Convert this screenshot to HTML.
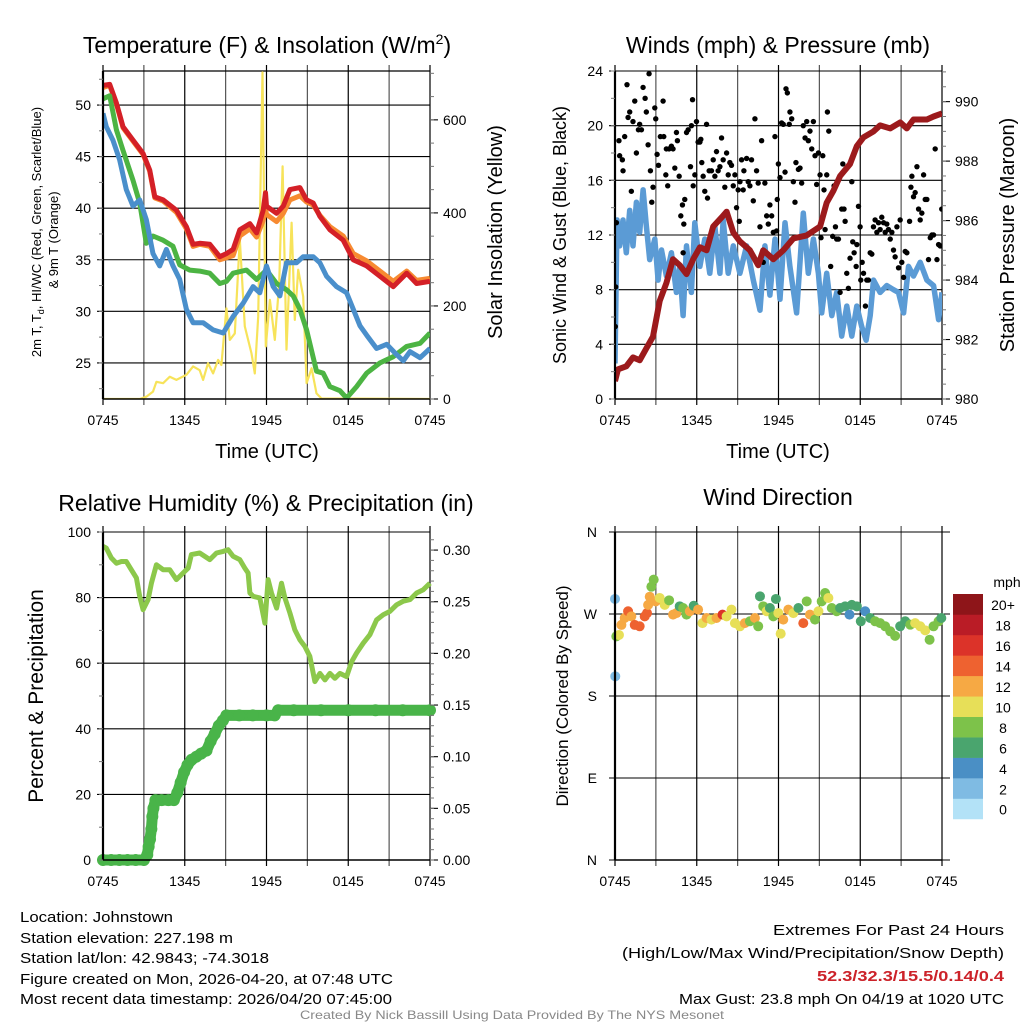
<!DOCTYPE html>
<html><head><meta charset="utf-8"><style>
html,body{margin:0;padding:0;background:#fff;width:1024px;height:1024px;overflow:hidden}
svg{display:block;font-family:"Liberation Sans",sans-serif}
.narrow{font-family:"Liberation Sans Narrow","Liberation Sans",sans-serif}
</style></head><body>
<svg id="chart" width="1024" height="1024" viewBox="0 0 1024 1024" xmlns="http://www.w3.org/2000/svg">
<defs>
<clipPath id="c1"><rect x="103" y="71" width="327" height="328"/></clipPath>
<clipPath id="c2"><rect x="615" y="71" width="327" height="328"/></clipPath>
<clipPath id="c3"><rect x="93" y="525" width="350" height="345"/></clipPath>
<clipPath id="c4"><rect x="605" y="525" width="345" height="345"/></clipPath>
</defs>
<g id="grids"></g>
<g id="marks"></g>
<g id="axes"></g>
<text x="267" y="53" font-size="23" text-anchor="middle">Temperature (F) &amp; Insolation (W/m<tspan dy="-9" font-size="14">2</tspan><tspan dy="9">)</tspan></text>
<text x="778" y="53" font-size="23" text-anchor="middle">Winds (mph) &amp; Pressure (mb)</text>
<text x="266" y="511" font-size="23" text-anchor="middle">Relative Humidity (%) &amp; Precipitation (in)</text>
<text x="778" y="505" font-size="23" text-anchor="middle">Wind Direction</text>
<text x="267" y="458" font-size="20" text-anchor="middle">Time (UTC)</text>
<text x="778" y="458" font-size="20" text-anchor="middle">Time (UTC)</text>
<text transform="translate(41,232) rotate(-90)" font-size="13" text-anchor="middle">2m T, T<tspan dy="3" font-size="9">d</tspan><tspan dy="-3">, HI/WC (Red, Green, Scarlet/Blue)</tspan></text>
<text transform="translate(58,240) rotate(-90)" font-size="13" text-anchor="middle">&amp; 9m T (Orange)</text>
<text transform="translate(502,232) rotate(-90)" font-size="20" text-anchor="middle">Solar Insolation (Yellow)</text>
<text transform="translate(566,235) rotate(-90)" font-size="18" text-anchor="middle">Sonic Wind &amp; Gust (Blue, Black)</text>
<text transform="translate(1014,235) rotate(-90)" font-size="20" text-anchor="middle">Station Pressure (Maroon)</text>
<text transform="translate(43,696) rotate(-90)" font-size="21" text-anchor="middle">Percent &amp; Precipitation</text>
<text transform="translate(568,696) rotate(-90)" font-size="17" text-anchor="middle">Direction (Colored By Speed)</text>
<text x="1007" y="587" font-size="14" text-anchor="middle">mph</text>
<g class="narrow" font-size="15">
<text x="20" y="922" textLength="153" lengthAdjust="spacingAndGlyphs">Location: Johnstown</text>
<text x="20" y="943" textLength="213" lengthAdjust="spacingAndGlyphs">Station elevation: 227.198 m</text>
<text x="20" y="963" textLength="249" lengthAdjust="spacingAndGlyphs">Station lat/lon: 42.9843; -74.3018</text>
<text x="20" y="984" textLength="373" lengthAdjust="spacingAndGlyphs">Figure created on Mon, 2026-04-20, at 07:48 UTC</text>
<text x="20" y="1004" textLength="372" lengthAdjust="spacingAndGlyphs">Most recent data timestamp: 2026/04/20 07:45:00</text>
<text x="1004" y="935" text-anchor="end" textLength="231" lengthAdjust="spacingAndGlyphs">Extremes For Past 24 Hours</text>
<text x="1004" y="958" text-anchor="end" textLength="382" lengthAdjust="spacingAndGlyphs">(High/Low/Max Wind/Precipitation/Snow Depth)</text>
<text x="1004" y="981" text-anchor="end" fill="#cc2229" font-weight="bold" textLength="187" lengthAdjust="spacingAndGlyphs">52.3/32.3/15.5/0.14/0.4</text>
<text x="1004" y="1004" text-anchor="end" textLength="325" lengthAdjust="spacingAndGlyphs">Max Gust: 23.8 mph On 04/19 at 1020 UTC</text>
<text x="512" y="1019" text-anchor="middle" fill="#888" font-size="12" textLength="424" lengthAdjust="spacingAndGlyphs">Created By Nick Bassill Using Data Provided By The NYS Mesonet</text>
</g>
</svg>
<script>
// ---------- DATA ----------
const timeTickLabels = ["0745","1345","1945","0145","0745"];
const tempTicks = [25,30,35,40,45,50];
const insolTicks = [0,200,400,600];
const windTicks = [0,4,8,12,16,20,24];
const presTicks = [980,982,984,986,988,990];
const rhTicks = [0,20,40,60,80,100];
const precipTicks = [0,0.05,0.10,0.15,0.20,0.25,0.30];
const precipTickLabels = ["0.00","0.05","0.10","0.15","0.20","0.25","0.30"];
const dirTicks = [0,90,180,270,360];
const dirTickLabels = ["N","E","S","W","N"];
const speedBins = ["0","2","4","6","8","10","12","14","16","18","20+"];
const speedColors = ["#b3e2f7","#7fbbe3","#4a8fc5","#4aa56e","#7dc24a","#e7df58","#f6a944","#ee6230","#dc3329","#ba1c26","#8e1519"];

const redT = [0,0.49,0.98,1.47,2.2,2.94,3.43,3.8,4.41,5.39,6.12,6.61,7.1,7.84,8.57,9.06,9.55,10.04,10.78,11.27,11.76,11.93,12.0,12.74,13.23,13.72,14.45,14.94,15.43,15.92,16.65,17.63,18.37,19.35,20.33,21.31,22.29,23.02,24];
const redV = [51.9,52.0,50.2,47.9,46.6,45.3,43.7,41.1,40.8,39.8,38.2,36.5,36.6,36.5,35.3,35.6,36.0,37.9,38.5,37.6,39.8,41.5,40.2,39.5,40.2,41.8,42.0,40.8,40.5,39.2,37.9,36.9,35.0,34.4,33.4,32.4,33.7,32.7,32.9];
const orangeV = [51.7,51.9,50.1,47.8,46.5,45.2,43.6,41.0,40.7,39.6,38.0,36.3,36.5,36.3,35.0,35.2,35.4,37.3,38.0,37.2,38.8,40.0,39.4,38.7,39.5,40.8,41.2,40.6,40.3,39.3,38.2,37.3,35.6,34.9,33.9,32.9,33.9,33.0,33.2];
const greenT = [0,0.49,0.98,1.47,2.2,2.69,3.18,3.67,4.41,5.14,5.63,6.37,7.1,7.84,8.57,9.06,9.55,10.53,11.27,12.0,12.74,13.47,13.96,14.45,14.94,15.67,16.16,16.65,17.39,17.88,18.61,19.35,20.33,21.31,22.29,23.27,24];
const greenV = [50.6,50.9,47.6,45.6,42.7,40.5,36.6,37.3,36.9,36.3,34.5,34.0,33.9,33.7,32.7,32.9,33.7,34.0,33.1,34.0,32.7,32.1,31.5,30.2,28.2,24.2,24.0,22.7,22.3,21.6,22.7,24.0,25.0,25.6,26.6,26.9,27.9];
const blueT = [0,0.24,0.73,1.22,1.71,2.2,2.69,3.18,3.67,4.16,4.65,5.14,5.63,6.12,6.61,7.35,8.08,8.82,9.55,10.29,11.02,11.51,12.0,12.49,12.98,13.47,14.2,14.69,15.43,15.92,16.41,17.14,17.88,18.37,18.86,19.35,20.08,20.82,21.55,22.04,22.53,23.27,24];
const blueV = [49.2,47.9,46.6,44.7,41.8,40.2,40.8,38.9,35.6,34.4,36.0,34.4,33.1,30.2,28.9,28.9,28.2,27.9,29.5,30.8,32.4,31.8,34.4,32.4,31.5,34.7,34.7,35.3,35.3,34.7,33.4,32.4,31.8,30.2,28.6,27.7,26.4,26.8,25.8,25.2,26.1,25.5,26.4];
const solarT = [0,2.69,3.18,3.67,3.92,4.41,4.9,5.39,6.12,6.61,7.1,7.35,7.71,8.08,8.45,8.69,9.06,9.31,9.67,10.04,10.41,10.9,11.14,11.39,11.71,11.95,12.25,12.61,12.93,13.18,13.47,13.84,14.08,14.33,14.69,14.94,15.31,15.67,16.04,24];
const solarV = [0,0,5,16,37,34,48,41,52,70,62,41,77,55,84,73,195,127,141,343,156,98,55,177,702,113,213,127,249,500,106,379,170,278,220,34,66,12,1,0];

const presT = [0,0.22,0.83,1.32,1.81,2.3,2.79,3.28,3.77,4.26,4.75,5.25,5.74,6.23,6.72,7.21,7.82,8.19,8.68,9.17,9.9,10.51,10.88,11.62,12.35,13.09,14.07,15.05,15.54,16.03,16.52,17.25,17.75,18.24,18.97,19.46,20.2,20.93,21.42,21.91,22.89,23.38,24];
const presV = [980.6,981.0,981.1,981.4,981.3,981.7,982.1,983.3,983.9,984.7,984.5,984.2,984.7,985.1,985.0,985.8,986.1,986.3,985.6,985.3,985.0,984.5,985.0,984.7,985.0,985.4,985.5,985.8,986.6,987.0,987.5,987.9,988.5,988.8,989.0,989.2,989.1,989.3,989.1,989.4,989.4,989.5,989.6];
const windT = [0,0.15,0.34,0.59,0.83,1.08,1.32,1.57,1.81,2.06,2.3,2.55,2.92,3.16,3.41,3.77,4.14,4.51,4.75,5.0,5.25,5.61,5.86,6.23,6.59,6.96,7.33,7.7,7.94,8.31,8.68,9.17,9.66,10.15,10.64,11.0,11.37,11.74,12.11,12.48,12.84,13.33,13.82,14.19,14.56,14.93,15.17,15.54,15.91,16.27,16.64,17.01,17.38,17.75,18.11,18.43,18.73,18.97,19.46,19.95,20.44,20.81,21.18,21.54,21.91,22.4,22.89,23.38,23.75,24];
const windV = [2.6,13.1,11.2,13.1,10.7,13.8,11.2,14.4,12.2,15.3,12.7,10.2,11.7,8.7,10.9,9.0,10.7,7.8,9.7,6.1,11.2,7.8,12.9,9.7,11.7,9.2,12.6,9.2,13.1,9.2,11.2,9.2,11.2,8.7,6.5,11.2,7.6,11.7,7.3,12.9,9.7,6.3,13.6,9.2,11.7,9.2,6.3,9.2,6.1,7.8,4.6,6.8,4.6,6.8,5.3,4.3,6.1,8.7,7.8,8.3,8.0,7.8,6.3,9.7,9.0,10.0,8.7,8.3,5.8,7.8];
const gustT = [0.02,0.05,0.1,0.29,0.34,0.54,0.59,0.71,0.88,0.96,1.08,1.2,1.32,1.45,1.57,1.72,1.81,1.94,2.06,2.21,2.3,2.43,2.5,2.6,2.7,2.79,2.92,2.99,3.09,3.19,3.33,3.53,3.58,3.73,3.77,3.87,3.97,4.14,4.26,4.39,4.51,4.58,4.71,4.83,4.95,5.0,5.05,5.12,5.25,5.37,5.54,5.61,5.69,5.74,5.86,5.98,6.1,6.23,6.3,6.37,6.47,6.59,6.72,6.79,6.91,7.08,7.21,7.33,7.45,7.57,7.7,7.82,7.94,8.06,8.19,8.31,8.43,8.55,8.68,8.8,8.92,9.04,9.12,9.17,9.29,9.41,9.46,9.66,9.78,9.9,10.02,10.15,10.27,10.39,10.51,10.64,10.76,10.88,11.0,11.13,11.25,11.37,11.5,11.62,11.74,11.86,11.91,11.99,12.11,12.23,12.35,12.48,12.55,12.65,12.79,12.84,12.97,13.09,13.21,13.28,13.46,13.58,13.7,13.82,13.95,14.07,14.19,14.31,14.44,14.56,14.68,14.8,14.93,15.05,15.12,15.25,15.34,15.42,15.54,15.59,15.69,15.83,15.98,16.08,16.18,16.27,16.4,16.52,16.64,16.72,16.81,16.89,17.01,17.13,17.25,17.38,17.45,17.55,17.7,17.75,17.87,17.99,18.04,18.14,18.24,18.38,18.48,18.6,18.73,18.85,18.97,19.09,19.22,19.34,19.46,19.58,19.71,19.83,19.95,20.07,20.2,20.32,20.44,20.56,20.69,20.81,20.93,21.05,21.18,21.3,21.42,21.62,21.72,21.79,21.91,22.03,22.16,22.28,22.4,22.52,22.65,22.77,22.89,23.01,23.14,23.26,23.38,23.5,23.63,23.75,23.87,23.98];
const gustV = [5.3,8.2,12.9,18.9,17.8,17.5,16.7,19.2,23.0,20.6,21.0,15.2,20.3,21.8,18.0,19.7,20.1,19.7,22.8,22.0,21.0,18.6,23.8,16.7,14.4,15.5,21.3,20.5,17.9,17.1,19.2,21.8,19.2,16.4,18.3,15.6,18.3,18.5,18.3,16.9,19.5,18.9,16.3,13.4,14.2,10.7,12.8,14.6,19.5,19.7,17.0,20.0,21.9,15.6,16.4,20.3,18.8,18.8,19.0,17.3,16.3,15.2,20.1,14.7,16.7,16.7,17.5,16.3,18.1,16.7,17.0,19.1,17.5,15.5,18.0,16.4,17.3,17.1,15.6,16.4,14.0,15.3,13.0,15.9,17.5,15.3,16.7,17.6,15.9,15.6,17.5,14.5,20.5,16.7,15.8,12.6,18.9,10.0,15.8,13.4,12.8,14.2,13.4,12.2,19.2,12.3,14.6,17.2,16.2,20.2,20.1,16.6,22.7,22.4,20.1,21.0,20.5,15.9,14.4,17.3,16.8,16.9,15.8,20.0,19.1,20.3,18.9,19.6,18.3,20.3,17.8,15.7,18.0,16.4,11.8,17.8,15.3,12.4,16.4,21.0,19.6,9.7,11.9,15.6,12.6,11.7,11.7,7.8,13.9,17.2,13.9,13.0,9.2,8.1,10.3,15.9,11.5,10.7,9.7,11.3,14.1,12.6,8.7,10.0,9.2,6.8,8.7,8.7,10.7,10.6,12.6,13.1,12.2,12.9,12.4,13.3,12.9,12.2,12.8,12.4,11.7,12.2,10.9,10.4,12.6,9.6,13.1,10.0,8.9,10.8,10.7,13.0,15.5,16.3,14.8,15.1,17.0,13.9,13.1,13.6,16.4,14.6,14.6,10.2,11.8,12.0,12.0,18.3,10.2,11.3,11.2,13.9];

const rhT = [0,0.24,0.61,0.98,1.35,1.71,2.08,2.45,2.69,2.94,3.31,3.55,3.92,4.41,4.9,5.39,5.88,6.25,6.49,7.1,7.84,8.33,8.82,9.18,9.55,10.04,10.41,10.65,10.78,11.02,11.51,11.88,12.12,12.37,12.74,13.1,13.35,13.72,14.08,14.45,14.82,15.18,15.55,15.92,16.29,16.65,17.02,17.39,17.88,18.25,18.61,19.1,19.59,20.08,20.57,21.06,21.55,22.04,22.53,23.02,23.51,24];
const rhV = [95.6,95.1,92.1,90.5,91.0,91.0,88.5,86.0,80.4,76.3,79.4,84.4,90.0,88.5,88.5,85.5,87.5,89.0,93.1,93.6,91.6,93.6,94.1,94.6,92.6,91.6,89.0,87.5,81.4,80.4,79.9,72.2,85.5,81.4,76.8,84.4,79.9,75.3,70.2,67.1,65.1,62.1,54.4,56.9,54.9,56.9,55.4,56.9,55.9,60.5,63.1,66.1,68.7,73.2,74.8,75.8,77.8,78.9,79.4,81.4,82.4,84.4];
const precipT = [0,0.6,1.2,1.8,2.4,3.0,3.25,3.35,3.45,3.55,3.62,3.7,3.85,4.3,4.8,5.2,5.45,5.7,5.95,6.2,6.5,6.85,7.2,7.6,7.9,8.2,8.5,8.8,9.06,10,11,12,12.6,12.86,14,16,18,20,22,24];
const precipV = [0,0,0,0,0,0,0.005,0.013,0.02,0.03,0.042,0.05,0.058,0.058,0.058,0.058,0.065,0.075,0.085,0.092,0.097,0.1,0.103,0.106,0.115,0.122,0.13,0.135,0.14,0.14,0.14,0.14,0.14,0.145,0.145,0.145,0.145,0.145,0.145,0.145];

const dirT = [0,0.02,0.1,0.29,0.47,0.71,0.96,1.2,1.45,1.81,2.18,2.35,2.43,2.55,2.67,2.84,2.99,3.28,3.65,3.97,4.26,4.51,4.75,5.0,5.25,5.49,5.78,6.1,6.42,6.72,7.08,7.45,7.89,8.19,8.55,8.8,9.17,9.53,9.9,10.27,10.51,10.64,10.88,11.13,11.37,11.62,11.81,11.99,12.16,12.35,12.72,13.09,13.46,13.82,14.07,14.31,14.68,14.93,15.17,15.42,15.66,15.91,16.27,16.52,16.89,17.21,17.38,17.75,18.04,18.36,18.73,19.09,19.46,19.83,20.2,20.56,20.93,21.3,21.67,22.03,22.4,22.77,23.09,23.38,23.75,23.95];
const dirV = [286.5,201.6,245.5,247,258,265.6,273,267.4,258,256.5,267.4,271,280,289,300,307.7,283.9,287.6,280,285,269.3,271,278.4,276.6,269.3,273,279,274.8,260,265.6,263.8,265.6,269.3,267.4,274.8,260,256.5,260,262,265.6,256.5,289.4,278.4,273,276.6,267.4,286.5,271,248.4,263.8,274.8,271,276.6,260,283.9,269.3,263.8,273,283.9,293,287.6,276.6,273,276.6,278.4,269.3,280,278.4,262,273,265.6,262,260,256.5,251,246,256.5,262,258.3,260,256.5,252,241.8,256.5,262,265.6];
const dirSpeed = [3,3,8,10,12,12,14,13,14,14,14,15,12,12,8,8,12,10,10,8,12,12,7,8,8,12,7,12,10,12,10,12,16,10,10,10,10,12,8,12,8,6,8,10,6,8,6,10,10,12,12,10,6,14,8,12,8,10,8,8,10,8,8,6,6,4,6,6,6,4,6,8,8,8,8,8,6,6,8,10,10,10,8,8,8,6];

// ---------- HELPERS ----------
const NS = "http://www.w3.org/2000/svg";
const gGrid = document.getElementById('grids');
const gMarks = document.getElementById('marks');
const gAxes = document.getElementById('axes');
function mk(tag, attrs, parent){const e=document.createElementNS(NS,tag);for(const k in attrs)e.setAttribute(k,attrs[k]);parent.appendChild(e);return e;}
function lin(d0,d1,r0,r1){return v=>r0+(v-d0)/(d1-d0)*(r1-r0);}
function pathD(ts,vs,xs,ys){let s="";for(let i=0;i<ts.length;i++){s+=(i?"L":"M")+xs(ts[i]).toFixed(1)+","+ys(vs[i]).toFixed(1);}return s;}

function frame(p, name){
  // vertical gridlines every 3 hours
  for(let h=0;h<=24;h+=3){
    const x=p.xs(h);
    const l=mk('line',{x1:x,y1:p.y0-6,x2:x,y2:p.y1+6,stroke:(h%6===0?'#000':'#555'),'stroke-width':1.2},gGrid);
    
    
  }
  timeTickLabels.forEach((lab,i)=>{
    const t=mk('text',{x:p.xs(i*6),y:p.y1+26,'font-size':14,'text-anchor':'middle'},gAxes);t.textContent=lab;
    
    
  });
  const ax=mk('line',{x1:p.x0,y1:p.y0,x2:p.x0,y2:p.y1,stroke:'#000','stroke-width':2.2},gAxes);
  
  
  const bx=mk('line',{x1:p.x0,y1:p.y1,x2:p.x1,y2:p.y1,stroke:'#000','stroke-width':1.4},gAxes);
  
  
}
function leftTicks(p,ticks,labels,ys,name,minorStep){
  ticks.forEach((v,i)=>{
    const y=ys(v);
    const l=mk('line',{x1:p.x0-6,y1:y,x2:p.x1+(p.rightExt||0),y2:y,stroke:'#000','stroke-width':1.1},gGrid);
    
    
    const t=mk('text',{x:p.x0-12,y:y+5,'font-size':14,'text-anchor':'end'},gAxes);t.textContent=labels?labels[i]:v;
    
    
  });
  if(minorStep){
    const lo=ys.domain[0],hi=ys.domain[1];
    for(let v=Math.ceil(lo/minorStep)*minorStep; v<=hi+1e-9; v+=minorStep){
      const y=ys(v);
      mk('line',{x1:p.x0-4,y1:y,x2:p.x0,y2:y,stroke:'#777','stroke-width':1},gAxes);
    }
  }
}
function rightTicks(p,ticks,labels,ys,name,minorStep){
  ticks.forEach((v,i)=>{
    const y=ys(v);
    mk('line',{x1:p.x1,y1:y,x2:p.x1+8,y2:y,stroke:'#000','stroke-width':1.1},gAxes);
    const t=mk('text',{x:p.x1+13,y:y+5,'font-size':14,'text-anchor':'start'},gAxes);t.textContent=labels?labels[i]:v;
    
    
  });
  if(minorStep){
    const lo=ys.domain[0],hi=ys.domain[1];
    for(let v=Math.ceil(lo/minorStep-1e-9)*minorStep; v<=hi+1e-9; v+=minorStep){
      mk('line',{x1:p.x1,y1:ys(v),x2:p.x1+4,y2:ys(v),stroke:'#777','stroke-width':1},gAxes);
    }
  }
}
function scaleY(d0,d1,r0,r1){const f=lin(d0,d1,r0,r1);f.domain=[d0,d1];return f;}

// ---------- PANEL 1: temperature ----------
{
const p={x0:103,x1:430,y0:71,y1:399};
p.xs=lin(0,24,p.x0,p.x1);
const yT=scaleY(21.5,53.3,p.y1,p.y0);
const yS=scaleY(0,705,p.y1,p.y0);
frame(p,'temp');
leftTicks(p,tempTicks,null,yT,'temp',2.5);
rightTicks(p,insolTicks,null,yS,'insolation',50);
const g=mk('g',{'clip-path':'url(#c1)'},gMarks);
const s=mk('path',{d:pathD(solarT,solarV,p.xs,yS),fill:'none',stroke:'#f7e35a','stroke-width':2.2,'stroke-linejoin':'round'},g);


const o=mk('path',{d:pathD(redT,orangeV,p.xs,yT),fill:'none',stroke:'#f78a31','stroke-width':5,'stroke-linejoin':'round'},g);


const r=mk('path',{d:pathD(redT,redV,p.xs,yT),fill:'none',stroke:'#d42027','stroke-width':5,'stroke-linejoin':'round'},g);


const gr=mk('path',{d:pathD(greenT,greenV,p.xs,yT),fill:'none',stroke:'#4cb443','stroke-width':5,'stroke-linejoin':'round'},g);


const b=mk('path',{d:pathD(blueT,blueV,p.xs,yT),fill:'none',stroke:'#4a8fcb','stroke-width':5,'stroke-linejoin':'round'},g);


const top=mk('line',{x1:p.x0,y1:p.y0,x2:p.x1,y2:p.y0,stroke:'#000','stroke-width':1.2},gGrid);
}

// ---------- PANEL 2: winds ----------
{
const p={x0:615,x1:942,y0:71,y1:399};
p.xs=lin(0,24,p.x0,p.x1);
const yW=scaleY(0,24,p.y1,p.y0);
const yP=scaleY(980,991.03,p.y1,p.y0);
frame(p,'wind');
leftTicks(p,windTicks,null,yW,'wind',2);
rightTicks(p,presTicks,null,yP,'pressure',0.5);
const g=mk('g',{'clip-path':'url(#c2)'},gMarks);
const w=mk('path',{d:pathD(windT,windV,p.xs,yW),fill:'none',stroke:'#5b9bd5','stroke-width':5.5,'stroke-linejoin':'round'},g);


for(let i=0;i<gustT.length;i++){
  const c=mk('circle',{cx:p.xs(gustT[i]),cy:yW(gustV[i]),r:2.7,fill:'#000'},g);
  
  
}
const pr=mk('path',{d:pathD(presT,presV,p.xs,yP),fill:'none',stroke:'#9c1a1c','stroke-width':6,'stroke-linejoin':'round'},g);


}

// ---------- PANEL 3: RH & precip ----------
{
const p={x0:103,x1:430,y0:532,y1:860};
p.xs=lin(0,24,p.x0,p.x1);
const yR=scaleY(0,100,p.y1,p.y0);
const yPr=scaleY(0,0.3175,p.y1,p.y0);
frame(p,'rh');
leftTicks(p,rhTicks,null,yR,'rh',10);
rightTicks(p,precipTicks,precipTickLabels,yPr,'precip',0.01);
const g=mk('g',{'clip-path':'url(#c3)'},gMarks);
const rh=mk('path',{d:pathD(rhT,rhV,p.xs,yR),fill:'none',stroke:'#8cc84b','stroke-width':5,'stroke-linejoin':'round'},g);


const pc=mk('path',{d:pathD(precipT,precipV,p.xs,yPr),fill:'none',stroke:'#49b449','stroke-width':11,'stroke-linejoin':'round','stroke-linecap':'round'},g);


for(let i=0;i<precipT.length;i++){
  const c=mk('circle',{cx:p.xs(precipT[i]),cy:yPr(precipV[i]),r:6,fill:'#49b449'},g);
  
  
}
}

// ---------- PANEL 4: wind direction ----------
{
const p={x0:615,x1:942,y0:532,y1:860};
p.xs=lin(0,24,p.x0,p.x1);
const yD=scaleY(0,360,p.y1,p.y0);
frame(p,'direction');
dirTicks.forEach((v,i)=>{
  const y=yD(v);
  const l=mk('line',{x1:p.x0-6,y1:y,x2:p.x1+8,y2:y,stroke:'#000','stroke-width':1.1},gGrid);
  
  
  const t=mk('text',{x:p.x0-18,y:y+5,'font-size':14,'text-anchor':'end'},gAxes);t.textContent=dirTickLabels[i];
  
  
});
const g=mk('g',{'clip-path':'url(#c4)'},gMarks);
for(let i=0;i<dirT.length;i++){
  const bin=Math.min(10,Math.floor(dirSpeed[i]/2));
  const c=mk('circle',{cx:p.xs(dirT[i]),cy:yD(dirV[i]),r:5,fill:speedColors[bin]},g);
  
  
}
// colorbar
const cb0=594, cbH=20.45;
speedBins.forEach((lab,i)=>{
  const y=cb0+(10-i)*cbH;
  const r=mk('rect',{x:953,y:y,width:30,height:cbH+0.3,fill:speedColors[i]},gAxes);
  
  
  const t=mk('text',{x:1003,y:y+cbH/2+6,'font-size':14,'text-anchor':'middle'},gAxes);t.textContent=lab;
  
  
});
}
</script>
</body></html>
